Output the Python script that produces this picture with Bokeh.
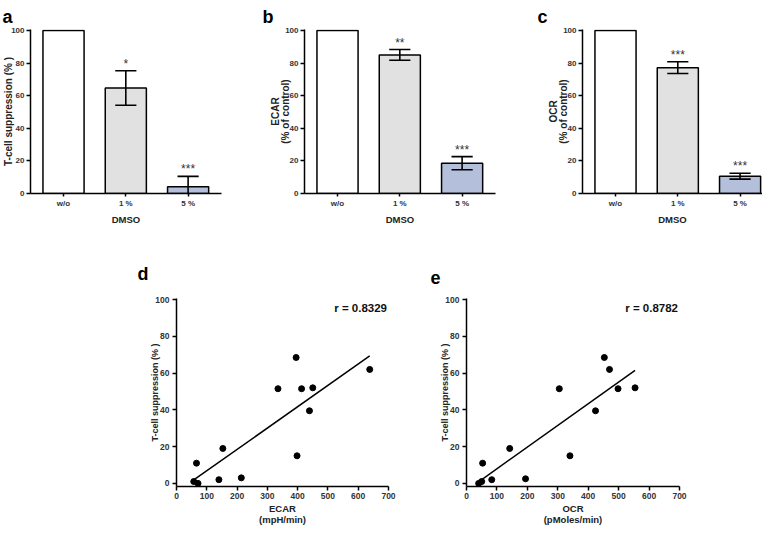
import numpy as np
from bokeh.plotting import figure
from bokeh.layouts import column, row
from bokeh.models import FixedTicker, Label, Range1d
from bokeh.core.properties import value
from bokeh.embed import file_html
from bokeh.resources import INLINE

# ---------------- data ----------------
dmso_groups = ["w/o", "1 %", "5 %"]
dmso_label = "DMSO"

tcell_mean = [100, 64.7, 4.2]
tcell_err = [0, 10.6, 6.3]
tcell_sig = ["", "*", "***"]

ecar_mean = [100, 85.0, 18.6]
ecar_err = [0, 3.3, 4.0]
ecar_sig = ["", "**", "***"]

ocr_mean = [100, 77.2, 10.6]
ocr_err = [0, 3.6, 1.8]
ocr_sig = ["", "***", "***"]

ecar_rate = [57, 66, 71, 140, 153, 214, 335, 395, 398, 413, 439, 450, 638]
supp_ecar = [1, 11, 0, 2, 19, 3, 51.5, 68.5, 15, 51.5, 39.5, 52, 62]
ocr_rate = [40, 50, 53, 83, 142, 194, 305, 340, 424, 453, 470, 498, 554]
supp_ocr = [0, 1, 11, 2, 19, 2.5, 51.5, 15, 39.5, 68.5, 62, 51.5, 52]

r_ecar = "r = 0.8329"
r_ocr = "r = 0.8782"

pct_ticks = [0, 20, 40, 60, 80, 100]
rate_ticks = [0, 100, 200, 300, 400, 500, 600, 700]

# ---------------- style ----------------
FONT = "Liberation Sans"
BAR_COLORS = ["white", "#e1e1e1", "#b3bfdb"]


def style(p, tick_font, label_font):
    p.outline_line_color = None
    p.grid.visible = False
    p.background_fill_color = "white"
    for ax in p.axis:
        ax.axis_line_width = 1.5
        ax.axis_line_color = "black"
        ax.major_tick_line_width = 1.5
        ax.major_tick_line_color = "black"
        ax.minor_tick_line_color = None
        ax.major_tick_in = 0
        ax.major_label_text_font = FONT
        ax.major_label_text_font_size = tick_font
        ax.major_label_text_font_style = "bold"
        ax.major_label_text_color = "#333333"
        ax.axis_label_text_font = FONT
        ax.axis_label_text_font_size = label_font
        ax.axis_label_text_font_style = "bold"
        ax.axis_label_text_color = "#222222"
        ax.axis_label_text_line_height = 1.0


def panel_letter(p, text, offset, standoff):
    p.title.text = text
    p.title.align = "left"
    p.title.offset = offset
    p.title.vertical_align = "bottom"
    p.title.standoff = standoff
    p.title.text_font = FONT
    p.title.text_font_size = "18px"
    p.title.text_font_style = "bold"
    p.title.text_color = "black"


def bar_panel(means, errs, sig, ylabel, letter, bl, br, fw, x_end, lab_off, let_off):
    x = list(range(len(dmso_groups)))
    p = figure(frame_width=fw, frame_height=164, min_border_left=bl, min_border_right=br,
               min_border_top=29, min_border_bottom=29,
               x_range=Range1d(-0.53, x_end), y_range=Range1d(0, 100.6),
               output_backend="svg", toolbar_location=None)
    p.vbar(x=x, top=means, width=0.66, fill_color=BAR_COLORS,
           line_color="black", line_width=1.5)
    ex = [xi for xi, e in zip(x, errs) if e > 0]
    lo = [m - e for m, e in zip(means, errs) if e > 0]
    hi = [m + e for m, e in zip(means, errs) if e > 0]
    cap = 0.17
    p.segment(x0=ex, y0=lo, x1=ex, y1=hi, line_color="black", line_width=1.6)
    p.segment(x0=[v - cap for v in ex], y0=hi, x1=[v + cap for v in ex], y1=hi,
              line_color="black", line_width=1.6)
    p.segment(x0=[v - cap for v in ex], y0=lo, x1=[v + cap for v in ex], y1=lo,
              line_color="black", line_width=1.6)
    sx = [xi for xi, s in zip(x, sig) if s]
    sy = [m + e for m, e, s in zip(means, errs, sig) if s]
    st = [s for s in sig if s]
    p.text(x=sx, y=sy, text=st, y_offset=-7, text_align="center",
           text_baseline="alphabetic", text_font=value(FONT),
           text_font_size="12px", text_color="#333333")
    style(p, "8px", "10px")
    p.xaxis.ticker = FixedTicker(ticks=x)
    p.xaxis.major_label_overrides = {i: g for i, g in enumerate(dmso_groups)}
    p.xaxis.major_tick_out = 3
    p.xaxis.major_label_standoff = 2
    p.xaxis.axis_label = dmso_label
    p.xaxis.axis_label_standoff = 3
    p.xaxis.axis_label_text_font_size = "9.5px"
    p.yaxis.ticker = FixedTicker(ticks=pct_ticks)
    p.yaxis.major_tick_out = 4
    p.yaxis.major_label_standoff = 2
    p.yaxis.axis_label = ylabel
    p.yaxis.axis_label_standoff = lab_off
    p.yaxis.axis_label_text_line_height = 0.9
    panel_letter(p, letter, let_off, 6)
    return p


def scatter_panel(xs, ys, xlabel, rtext, letter, bl, br, fw, let_off):
    p = figure(frame_width=fw, frame_height=188, min_border_left=bl, min_border_right=br,
               min_border_top=71, min_border_bottom=37,
               x_range=Range1d(0, 700), y_range=Range1d(-1.7, 100.6),
               output_backend="svg", toolbar_location=None)
    slope, icpt = np.polyfit(xs, ys, 1)
    xl = [min(xs), max(xs)]
    yl = [slope * v + icpt for v in xl]
    p.line(xl, yl, line_color="black", line_width=1.5)
    p.scatter(xs, ys, size=6, color="black")
    p.add_layout(Label(x=695, y=95.5, text=rtext, text_align="right",
                       text_baseline="middle", text_font=FONT, text_font_size="11.5px",
                       text_font_style="bold", text_color="#111111"))
    style(p, "8.5px", "9.5px")
    p.xaxis.ticker = FixedTicker(ticks=rate_ticks)
    p.xaxis.major_tick_out = 4
    p.xaxis.major_label_standoff = 2
    p.xaxis.axis_label = xlabel
    p.xaxis.axis_label_standoff = 1
    p.yaxis.ticker = FixedTicker(ticks=pct_ticks)
    p.yaxis.major_tick_out = 4
    p.yaxis.major_label_standoff = 3
    p.yaxis.axis_label = "T-cell suppression (% )"
    p.yaxis.axis_label_standoff = -8
    p.yaxis.axis_label_text_font_size = "9px"
    panel_letter(p, letter, let_off, 30)
    return p


pa = bar_panel(tcell_mean, tcell_err, tcell_sig, "T-cell suppression (% )", "a",
               30, 5, 191, 2.536, -6, -28)
pb = bar_panel(ecar_mean, ecar_err, ecar_sig, "ECAR\n(% of control)", "b",
               78, 4, 191, 2.536, -9, -42)
pc = bar_panel(ocr_mean, ocr_err, ocr_sig, "OCR\n(% of control)", "c",
               83, 0, 180, 2.36, -9, -45)

pd = scatter_panel(ecar_rate, supp_ecar, "ECAR\n(mpH/min)", r_ecar, "d", 176, 20, 212, -39)
pe = scatter_panel(ocr_rate, supp_ocr, "OCR\n(pMoles/min)", r_ocr, "e", 58, 10, 213, -36)

layout = column(row(pa, pb, pc), row(pd, pe))
open("out.html", "w").write(file_html(layout, INLINE))
